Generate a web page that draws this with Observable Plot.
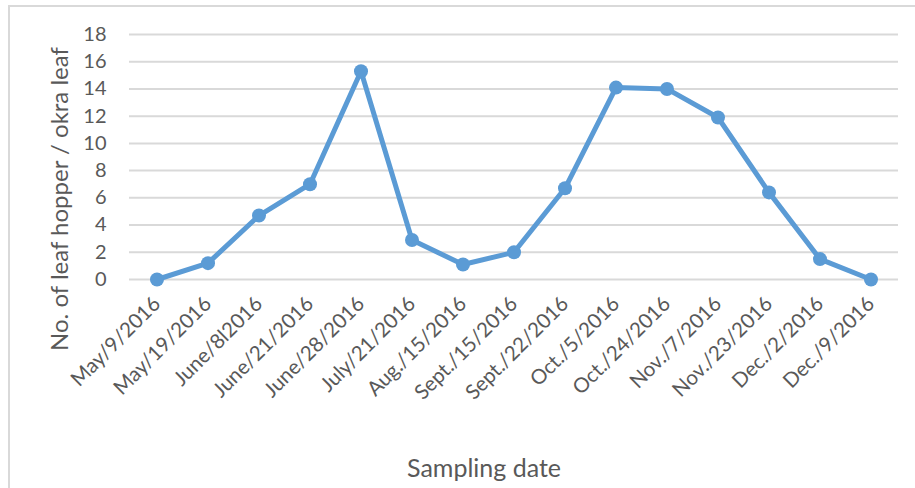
<!DOCTYPE html>
<html><head><meta charset="utf-8">
<script src="https://cdn.jsdelivr.net/npm/d3@7"></script>
<script src="https://cdn.jsdelivr.net/npm/@observablehq/plot@0.6"></script>
<style>
html,body{margin:0;padding:0;background:#fff;overflow:hidden;}
#wrap{position:relative;width:915px;height:488px;overflow:hidden;}
#border{position:absolute;left:8px;top:5px;width:1000px;height:1000px;border:2px solid #d9d9d9;box-sizing:border-box;}
#chart{position:absolute;left:0;top:0;}
</style></head>
<body>
<div id="wrap"><div id="border"></div><div id="chart"></div></div>
<script>
const dates = ["May/9/2016","May/19/2016","June/8l2016","June/21/2016","June/28/2016","July/21/2016","Aug./15/2016","Sept./15/2016","Sept./22/2016","Oct./5/2016","Oct./24/2016","Nov./7/2016","Nov./23/2016","Dec./2/2016","Dec./9/2016"];
const counts = [0, 1.2, 4.7, 7.0, 15.3, 2.9, 1.1, 2.0, 6.7, 14.1, 14.0, 11.9, 6.4, 1.5, 0];
const yTicks = [0,2,4,6,8,10,12,14,16,18];
const yLabel = "No. of leaf hopper / okra leaf";
const xLabel = "Sampling date";

const data = dates.map((d,i)=>({date:d, value:counts[i]}));
const font = "Lato, 'Open Sans', sans-serif";
const col = "#5B9BD5";

const plot = Plot.plot({
  width: 915, height: 488,
  marginLeft: 129, marginRight: 17, marginTop: 34, marginBottom: 209,
  style: {fontFamily: font, color: "#595959", background: "transparent", overflow: "visible"},
  x: {type: "band", domain: dates, padding: 0},
  y: {domain: [0, 18]},
  marks: [
    Plot.gridY(yTicks, {stroke: "#d9d9d9", strokeOpacity: 1, strokeWidth: 2}),
    Plot.axisY(yTicks, {tickSize: 0, tickPadding: 23, fontSize: 20, label: null}),
    Plot.axisX({tickSize: 0, tickPadding: 21, tickRotate: -45, fontSize: 20.5, label: null}),
    Plot.line(data, {x: "date", y: "value", stroke: col, strokeWidth: 5}),
    Plot.dot(data, {x: "date", y: "value", fill: col, r: 7}),
    Plot.text([yLabel], {frameAnchor: "left", textAnchor: "middle", rotate: -90, dx: -69, dy: 42, fontSize: 24, fill: "#595959"}),
    Plot.text([xLabel], {frameAnchor: "bottom", dx: -30, dy: 197, fontSize: 25, fill: "#595959"})
  ]
});
document.getElementById("chart").appendChild(plot);
</script>
</body></html>
